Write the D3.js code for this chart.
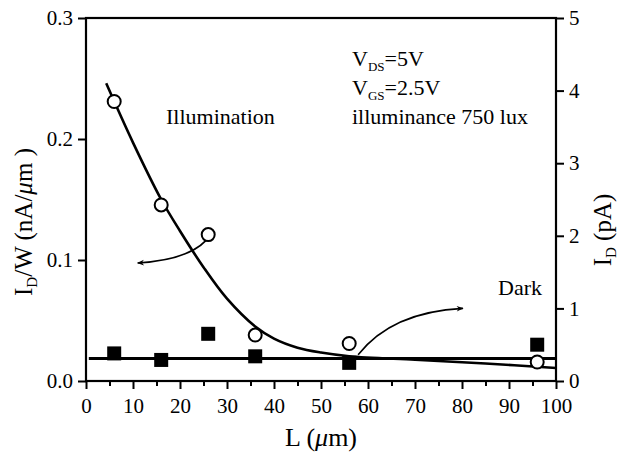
<!DOCTYPE html>
<html>
<head>
<meta charset="utf-8">
<script src="https://cdn.jsdelivr.net/npm/d3@7"></script>
<style>
  html, body { margin: 0; padding: 0; background: #fff; }
  svg text { font-family: "Liberation Serif", "Times New Roman", serif; fill: #000; }
</style>
</head>
<body>
<svg id="chart" width="625" height="457"></svg>
<script>
// Channel length L (µm) of the measured devices
const lengths = [6, 16, 26, 36, 56, 96];
// Photocurrent per width under illumination, I_D/W (nA/µm) — left axis
const illumValues = [0.231, 0.1455, 0.121, 0.038, 0.031, 0.0157];
// Dark current, I_D (pA) — right axis
const darkValues = [0.38, 0.29, 0.65, 0.34, 0.25, 0.50];

// Fitted trend through the illuminated points (L, I_D/W)
const illumFitL = [4.3, 10, 16, 20, 25, 30, 36, 40, 45, 50, 56, 70, 85, 100];
const illumFitV = [0.246, 0.197, 0.150, 0.124, 0.094, 0.068, 0.045, 0.035, 0.0275, 0.0235, 0.0205, 0.0175, 0.0145, 0.0107];
// Dark current level (pA), flat across L
const darkFitLevel = 0.31;

// Axis tick values
const xTicksMajor = [0, 10, 20, 30, 40, 50, 60, 70, 80, 90, 100];
const xTicksMinor = [5, 15, 25, 35, 45, 55, 65, 75, 85, 95];
const leftTicks = [0.0, 0.1, 0.2, 0.3];
const rightTicks = [0, 1, 2, 3, 4, 5];

const svg = d3.select("#chart");

const x = d3.scaleLinear().domain([0, 100]).range([86, 556]);
const yL = d3.scaleLinear().domain([0, 0.3]).range([381, 18]);
const yR = d3.scaleLinear().domain([0, 5]).range([381, 18]);

const tickFont = 21;

// Frame
svg.append("rect")
  .attr("x", x(0)).attr("y", yL(0.3))
  .attr("width", x(100) - x(0)).attr("height", yL(0) - yL(0.3))
  .attr("fill", "none").attr("stroke", "#000").attr("stroke-width", 2.2);

// Bottom axis
const xAxis = d3.axisBottom(x).tickValues(xTicksMajor).tickSize(8).tickPadding(4)
  .tickFormat(d3.format("d"));
const gx = svg.append("g").attr("transform", `translate(0,${yL(0)})`).call(xAxis);
gx.append("g").call(d3.axisBottom(x).tickValues(xTicksMinor).tickSize(5).tickFormat(""));

// Left axis
const gl = svg.append("g").attr("transform", `translate(${x(0)},0)`)
  .call(d3.axisLeft(yL).tickValues(leftTicks).tickSize(8).tickPadding(5).tickFormat(d3.format(".1f")));

// Right axis
const gr = svg.append("g").attr("transform", `translate(${x(100)},0)`)
  .call(d3.axisRight(yR).tickValues(rightTicks).tickSize(8).tickPadding(5).tickFormat(d3.format("d")));

svg.selectAll(".domain").remove();
svg.selectAll(".tick line").attr("stroke", "#000").attr("stroke-width", 2);
svg.selectAll(".tick text")
  .style("font-family", "'Liberation Serif', serif")
  .style("font-size", tickFont + "px").attr("fill", "#000");
gx.selectAll(".tick text").attr("dy", "0.95em");

// Dark current level line
svg.append("line")
  .attr("x1", x(0.6)).attr("x2", x(100))
  .attr("y1", yR(darkFitLevel)).attr("y2", yR(darkFitLevel))
  .attr("stroke", "#000").attr("stroke-width", 3);

// Illumination fit curve
const fitLine = d3.line()
  .x((d, i) => x(illumFitL[i]))
  .y(d => yL(d))
  .curve(d3.curveCatmullRom.alpha(0.5));
svg.append("path")
  .attr("d", fitLine(illumFitV))
  .attr("fill", "none").attr("stroke", "#000").attr("stroke-width", 2.6);

// Dark current squares
const sq = 14;
svg.selectAll("rect.dark").data(darkValues).join("rect")
  .attr("class", "dark")
  .attr("x", (d, i) => x(lengths[i]) - sq / 2)
  .attr("y", d => yR(d) - sq / 2)
  .attr("width", sq).attr("height", sq)
  .attr("fill", "#000");

// Illumination circles
svg.selectAll("circle.illum").data(illumValues).join("circle")
  .attr("class", "illum")
  .attr("cx", (d, i) => x(lengths[i]))
  .attr("cy", d => yL(d))
  .attr("r", 6.5)
  .attr("fill", "#fff").attr("stroke", "#000").attr("stroke-width", 2);

// Arrow markers
const defs = svg.append("defs");
defs.append("marker")
  .attr("id", "arrow").attr("viewBox", "0 0 10 10")
  .attr("refX", 9).attr("refY", 5)
  .attr("markerWidth", 9).attr("markerHeight", 7)
  .attr("markerUnits", "userSpaceOnUse")
  .attr("orient", "auto")
  .append("path").attr("d", "M0,1 L10,5 L0,9 L3,5 Z").attr("fill", "#000");

// Arrow: illumination points read on the left axis
svg.append("path")
  .attr("d", `M${x(25.5)},${yL(0.116)} Q${x(21.5)},${yL(0.1)} ${x(11)},${yL(0.0975)}`)
  .attr("fill", "none").attr("stroke", "#000").attr("stroke-width", 1.6)
  .attr("marker-end", "url(#arrow)");

// Arrow: dark points read on the right axis
svg.append("path")
  .attr("d", `M${x(57.9)},${yR(0.36)} Q${x(65)},${yR(0.95)} ${x(80.2)},${yR(1.0)}`)
  .attr("fill", "none").attr("stroke", "#000").attr("stroke-width", 1.6)
  .attr("marker-end", "url(#arrow)");

// Annotations
const note = svg.append("g").style("font-size", "22px");
note.append("text").attr("x", 166).attr("y", 124).text("Illumination");
note.append("text").attr("x", 498).attr("y", 295).text("Dark");

const cond = svg.append("g").style("font-size", "22px");
const vds = cond.append("text").attr("x", 352).attr("y", 66);
vds.append("tspan").text("V");
vds.append("tspan").attr("dy", 5).style("font-size", "13px").text("DS");
vds.append("tspan").attr("dy", -5).text("=5V");
const vgs = cond.append("text").attr("x", 352).attr("y", 95);
vgs.append("tspan").text("V");
vgs.append("tspan").attr("dy", 5).style("font-size", "13px").text("GS");
vgs.append("tspan").attr("dy", -5).text("=2.5V");
cond.append("text").attr("x", 352).attr("y", 124).text("illuminance 750 lux");

// Axis titles
const xt = svg.append("text").attr("x", 321).attr("y", 446)
  .attr("text-anchor", "middle").style("font-size", "26px");
xt.append("tspan").text("L (");
xt.append("tspan").style("font-style", "italic").text("μ");
xt.append("tspan").text("m)");

const ylt = svg.append("text")
  .attr("transform", `translate(32,222) rotate(-90)`)
  .attr("text-anchor", "middle").style("font-size", "25px");
ylt.append("tspan").text("I");
ylt.append("tspan").attr("dy", 5).style("font-size", "15px").text("D");
ylt.append("tspan").attr("dy", -5).text("/W (nA/");
ylt.append("tspan").style("font-style", "italic").text("μ");
ylt.append("tspan").text("m )");

const yrt = svg.append("text")
  .attr("transform", `translate(611,230) rotate(-90)`)
  .attr("text-anchor", "middle").style("font-size", "25px");
yrt.append("tspan").text("I");
yrt.append("tspan").attr("dy", 5).style("font-size", "15px").text("D");
yrt.append("tspan").attr("dy", -5).text(" (pA)");
</script>
</body>
</html>
